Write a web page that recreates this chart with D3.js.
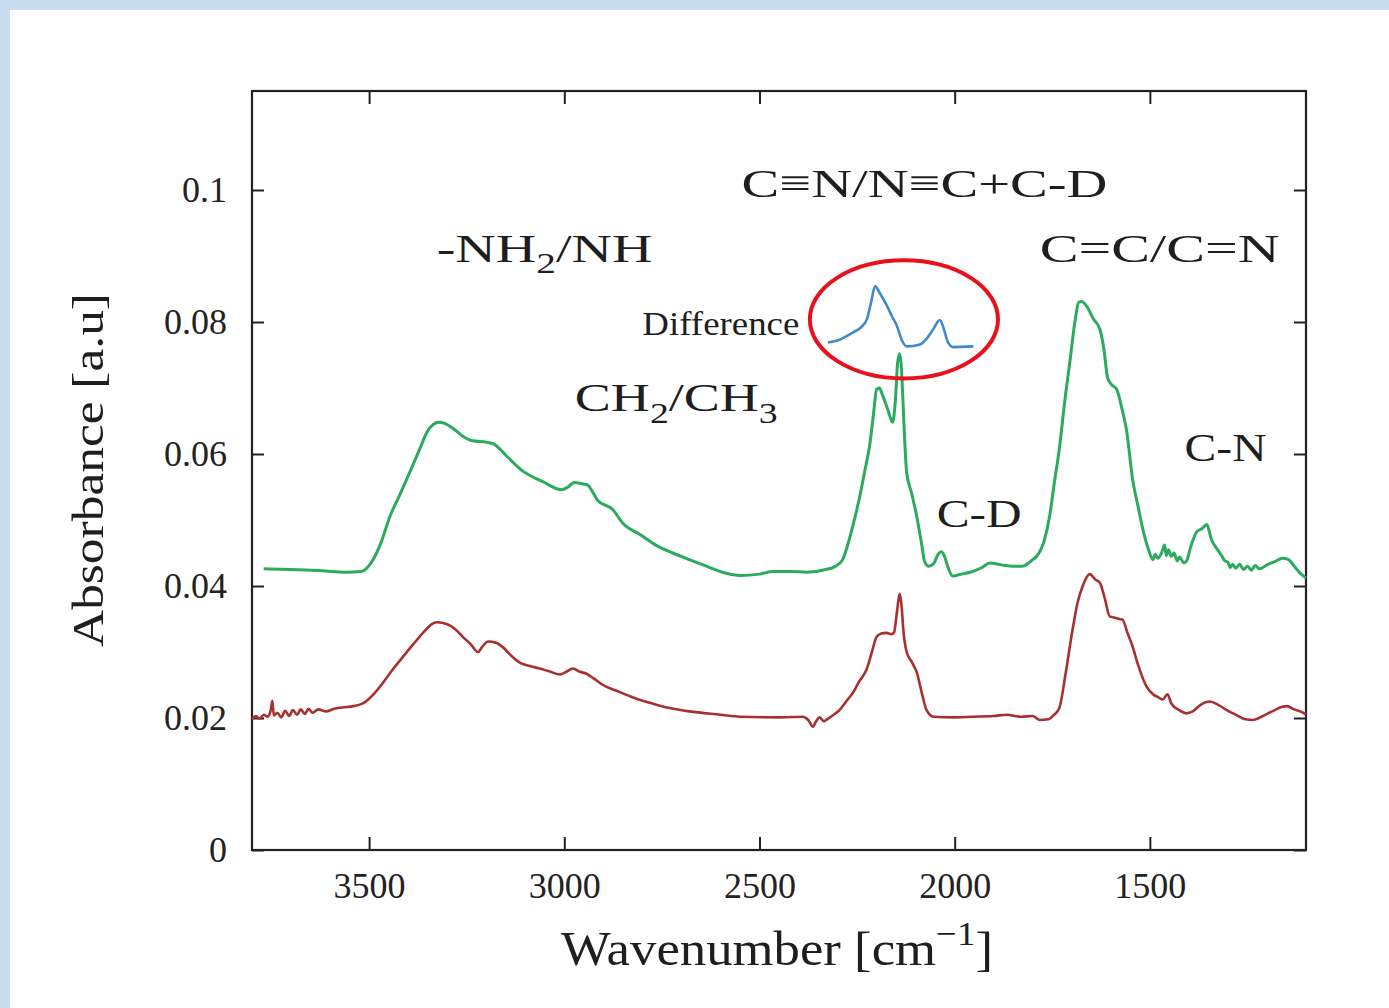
<!DOCTYPE html>
<html>
<head>
<meta charset="utf-8">
<script src="https://cdn.jsdelivr.net/npm/d3@7"></script>
<style>
  body { margin: 0; background: #c9dcf0; }
  svg { display: block; }
</style>
</head>
<body>
<div id="chart"></div>
<script>
// spectra: [wavenumber cm-1, absorbance]
var deuterated = [
  [3770, 0.0426], [3700, 0.0425], [3620, 0.0423], [3560, 0.0421], [3520, 0.0422],
  [3495, 0.0435], [3470, 0.0465], [3447, 0.0505], [3420, 0.0540], [3396, 0.0572],
  [3370, 0.0608], [3352, 0.0633], [3335, 0.0645], [3322, 0.0648], [3305, 0.0646],
  [3290, 0.0641], [3260, 0.0627], [3235, 0.0620], [3200, 0.0618], [3180, 0.0615],
  [3148, 0.0597], [3106, 0.0574], [3055, 0.0558], [3007, 0.0546], [2990, 0.0550],
  [2975, 0.0557], [2955, 0.0555], [2940, 0.0553], [2925, 0.0540], [2915, 0.0530],
  [2876, 0.0516], [2850, 0.0495], [2806, 0.0478], [2760, 0.0460], [2722, 0.0450],
  [2680, 0.0440], [2636, 0.0430], [2590, 0.0420], [2550, 0.0416], [2500, 0.0418],
  [2466, 0.0422], [2420, 0.0422], [2379, 0.0421], [2330, 0.0425], [2305, 0.0430],
  [2287, 0.0440], [2268, 0.0475], [2255, 0.0505], [2243, 0.0536], [2230, 0.0575],
  [2218, 0.0612], [2208, 0.0660], [2200, 0.0698], [2193, 0.0700], [2184, 0.0688],
  [2170, 0.0665], [2159, 0.0648], [2152, 0.0680], [2146, 0.0739], [2141, 0.0752],
  [2137, 0.0735], [2133, 0.0688], [2128, 0.0620], [2123, 0.0572], [2110, 0.0540],
  [2097, 0.0505], [2085, 0.0465], [2077, 0.0437], [2066, 0.0430], [2055, 0.0433],
  [2040, 0.0450], [2034, 0.0452], [2026, 0.0445], [2018, 0.0430], [2005, 0.0415],
  [1990, 0.0417], [1954, 0.0422], [1930, 0.0428], [1910, 0.0435], [1880, 0.0432],
  [1850, 0.0430], [1826, 0.0430], [1800, 0.0440], [1790, 0.0445], [1770, 0.0470],
  [1757, 0.0505], [1745, 0.0555], [1731, 0.0612], [1718, 0.0680], [1705, 0.0739],
  [1692, 0.0800], [1682, 0.0830], [1675, 0.0831], [1662, 0.0824], [1645, 0.0805],
  [1628, 0.0789], [1618, 0.0760], [1608, 0.0715], [1598, 0.0705], [1585, 0.0698],
  [1572, 0.0670], [1560, 0.0637], [1544, 0.0561], [1530, 0.0520], [1518, 0.0486],
  [1505, 0.0458], [1492, 0.0440], [1486, 0.0448], [1480, 0.0442], [1470, 0.0450],
  [1462, 0.0462], [1458, 0.0446], [1452, 0.0455], [1445, 0.0445], [1438, 0.0450],
  [1430, 0.0438], [1424, 0.0444], [1413, 0.0435], [1406, 0.0438], [1395, 0.0460],
  [1380, 0.0482], [1366, 0.0487], [1354, 0.0493], [1342, 0.0470], [1329, 0.0457],
  [1315, 0.0445], [1308, 0.0438], [1300, 0.0436], [1294, 0.0428], [1288, 0.0433],
  [1280, 0.0427], [1270, 0.0433], [1260, 0.0425], [1250, 0.0430], [1240, 0.0424],
  [1230, 0.0431], [1219, 0.0426], [1200, 0.0432], [1180, 0.0437], [1160, 0.0442],
  [1145, 0.0440], [1130, 0.0430], [1116, 0.0420], [1100, 0.0412]
];

var reference = [
  [3800, 0.0198], [3790, 0.0203], [3780, 0.0199], [3770, 0.0205], [3760, 0.0202],
  [3752, 0.0212], [3748, 0.0226], [3744, 0.0204], [3735, 0.0208], [3725, 0.0201],
  [3715, 0.0211], [3705, 0.0203], [3695, 0.0212], [3685, 0.0205], [3675, 0.0213],
  [3665, 0.0206], [3655, 0.0214], [3645, 0.0208], [3630, 0.0213], [3610, 0.0210],
  [3590, 0.0214], [3570, 0.0216], [3540, 0.0218], [3516, 0.0222], [3490, 0.0235],
  [3465, 0.0253], [3440, 0.0273], [3413, 0.0293], [3385, 0.0313], [3362, 0.0329],
  [3340, 0.0342], [3327, 0.0345], [3300, 0.0342], [3280, 0.0335], [3260, 0.0323],
  [3240, 0.0312], [3221, 0.0300], [3210, 0.0308], [3195, 0.0316], [3175, 0.0314],
  [3157, 0.0307], [3135, 0.0294], [3114, 0.0284], [3090, 0.0279], [3063, 0.0275],
  [3035, 0.0270], [3011, 0.0266], [2995, 0.0270], [2978, 0.0275], [2960, 0.0270],
  [2943, 0.0267], [2925, 0.0260], [2901, 0.0250], [2870, 0.0242], [2840, 0.0235],
  [2810, 0.0228], [2781, 0.0223], [2730, 0.0215], [2680, 0.0210], [2600, 0.0205],
  [2550, 0.0202], [2450, 0.0201], [2389, 0.0202], [2375, 0.0197], [2363, 0.0187],
  [2355, 0.0195], [2346, 0.0201], [2335, 0.0195], [2327, 0.0198], [2310, 0.0205],
  [2295, 0.0212], [2278, 0.0225], [2261, 0.0238], [2245, 0.0255], [2226, 0.0273],
  [2212, 0.0300], [2200, 0.0323], [2188, 0.0328], [2175, 0.0329], [2162, 0.0327],
  [2155, 0.0330], [2148, 0.0360], [2141, 0.0388], [2136, 0.0370], [2131, 0.0330],
  [2123, 0.0300], [2110, 0.0285], [2097, 0.0269], [2085, 0.0240], [2072, 0.0212],
  [2054, 0.0202], [2000, 0.0201], [1954, 0.0202], [1900, 0.0203], [1867, 0.0205],
  [1830, 0.0202], [1800, 0.0203], [1782, 0.0197], [1760, 0.0198], [1745, 0.0205],
  [1732, 0.0215], [1715, 0.0270], [1698, 0.0334], [1685, 0.0375], [1672, 0.0400],
  [1654, 0.0418], [1640, 0.0410], [1628, 0.0405], [1615, 0.0380], [1603, 0.0354],
  [1590, 0.0352], [1578, 0.0350], [1570, 0.0349], [1558, 0.0330], [1544, 0.0308],
  [1530, 0.0280], [1508, 0.0247], [1490, 0.0235], [1480, 0.0232], [1467, 0.0228],
  [1455, 0.0236], [1445, 0.0222], [1425, 0.0212], [1406, 0.0207], [1390, 0.0210],
  [1370, 0.0220], [1346, 0.0225], [1325, 0.0220], [1303, 0.0212], [1280, 0.0205],
  [1255, 0.0198], [1236, 0.0197], [1210, 0.0203], [1180, 0.0212], [1160, 0.0217],
  [1149, 0.0218], [1130, 0.0213], [1108, 0.0208], [1100, 0.0205]
];

// inset "Difference" trace, drawn in the same axes
var difference = [
  [2325, 0.0769], [2300, 0.0772], [2261, 0.0784], [2240, 0.0792], [2225, 0.0804],
  [2214, 0.0830], [2204, 0.0854], [2190, 0.0842], [2173, 0.0824], [2160, 0.0808],
  [2148, 0.0794], [2135, 0.0772], [2122, 0.0763], [2089, 0.0766], [2070, 0.0776],
  [2055, 0.0789], [2038, 0.0803], [2028, 0.0790], [2017, 0.0769], [2004, 0.0762],
  [1952, 0.0763]
];

var xTicks = [3500, 3000, 2500, 2000, 1500];
var yTicks = [0, 0.02, 0.04, 0.06, 0.08, 0.1];

// label text pieces: [text, "sub" | "sup" | undefined]
var labels = [
  {parts: [["-NH"], ["2", "sub"], ["/NH"]], wn: 3327, abs: 0.0891, width: 216, size: 41},
  {parts: [["C\u2261N/N\u2261C+C-D"]], wn: 2546, abs: 0.0989, width: 366, size: 41},
  {parts: [["Difference"]], wn: 2800, abs: 0.0781, width: 157, size: 34},
  {parts: [["CH"], ["2", "sub"], ["/CH"], ["3", "sub"]], wn: 2973, abs: 0.0665, width: 203, size: 41},
  {parts: [["C=C/C=N"]], wn: 1782, abs: 0.0891, width: 240, size: 41},
  {parts: [["C-N"]], wn: 1411, abs: 0.0589, width: 82, size: 41},
  {parts: [["C-D"]], wn: 2046, abs: 0.0489, width: 85, size: 40}
];

var W = 1389, H = 1008;
var margin = {left: 252, right: W - 1306, top: 91, bottom: H - 850};
var font = '"Liberation Serif", "DejaVu Serif", serif';

var svg = d3.select('#chart').append('svg')
  .attr('width', W)
  .attr('height', H);

svg.append('rect').attr('width', W).attr('height', H).attr('fill', '#c9dcf0');
svg.append('rect').attr('x', 10).attr('y', 10)
  .attr('width', W - 10).attr('height', H - 10).attr('fill', '#fff');

var x = d3.scaleLinear().domain([3800, 1100]).range([margin.left, W - margin.right]);
var y = d3.scaleLinear().domain([0, 0.115]).range([H - margin.bottom, margin.top]);

var fmt = function (d) { return d === 0 ? '0' : String(+d.toFixed(2)); };

// axes, ticks pointing inward
var gx = svg.append('g')
  .attr('transform', 'translate(0,' + y(0) + ')')
  .call(d3.axisBottom(x).tickValues(xTicks).tickSizeInner(-13).tickSizeOuter(0)
    .tickPadding(22).tickFormat(d3.format('d')));
var gxt = svg.append('g')
  .attr('transform', 'translate(0,' + margin.top + ')')
  .call(d3.axisTop(x).tickValues(xTicks).tickSizeInner(-13).tickSizeOuter(0).tickFormat(''));
var gy = svg.append('g')
  .attr('transform', 'translate(' + margin.left + ',0)')
  .call(d3.axisLeft(y).tickValues(yTicks).tickSizeInner(-12).tickSizeOuter(0).tickPadding(25).tickFormat(fmt));
var gyr = svg.append('g')
  .attr('transform', 'translate(' + (W - margin.right) + ',0)')
  .call(d3.axisRight(y).tickValues(yTicks).tickSizeInner(-12).tickSizeOuter(0).tickFormat(''));

[gx, gxt, gy, gyr].forEach(function (g) {
  g.select('.domain').remove();
  g.selectAll('.tick line').attr('stroke', '#222').attr('stroke-width', 2);
  g.selectAll('.tick text')
    .attr('font-family', font)
    .attr('font-size', 36)
    .attr('fill', '#222');
});

svg.append('rect')
  .attr('x', margin.left).attr('y', margin.top)
  .attr('width', W - margin.right - margin.left)
  .attr('height', y(0) - margin.top)
  .attr('fill', 'none')
  .attr('stroke', '#222')
  .attr('stroke-width', 2.2);

var line = d3.line()
  .x(function (d) { return x(d[0]); })
  .y(function (d) { return y(d[1]); })
  .curve(d3.curveMonotoneX);

svg.append('path').datum(reference)
  .attr('d', line).attr('fill', 'none')
  .attr('stroke', '#a8302e').attr('stroke-width', 2.6).attr('stroke-linejoin', 'round');
svg.append('path').datum(deuterated)
  .attr('d', line).attr('fill', 'none')
  .attr('stroke', '#2caa5e').attr('stroke-width', 3).attr('stroke-linejoin', 'round');
svg.append('path').datum(difference)
  .attr('d', line).attr('fill', 'none')
  .attr('stroke', '#4289c8').attr('stroke-width', 2.6).attr('stroke-linejoin', 'round');

// red ring round the difference trace
svg.append('ellipse')
  .attr('cx', x(2130)).attr('cy', y(0.0804))
  .attr('rx', x(2130 - 241) - x(2130))
  .attr('ry', y(0) - y(0.00895))
  .attr('fill', 'none')
  .attr('stroke', '#e8101a')
  .attr('stroke-width', 4);

// write text from pieces, then stretch it to the width seen in the picture
function writeParts(t, parts, size) {
  var shift = 0;
  parts.forEach(function (p) {
    var s = p[1] === 'sub' ? size * 0.28 : p[1] === 'sup' ? -size * 0.42 : 0;
    t.append('tspan')
      .attr('dy', s - shift)
      .attr('font-size', p[1] ? size * 0.7 : size)
      .text(p[0]);
    shift = s;
  });
}

labels.forEach(function (l) {
  var t = svg.append('text')
    .attr('font-family', font)
    .attr('font-size', l.size)
    .attr('fill', '#1e1e1e');
  writeParts(t, l.parts, l.size);
  var bw = t.node().getBBox().width;
  t.attr('transform', 'translate(' + x(l.wn) + ',' + y(l.abs) + ') scale(' + (l.width / bw) + ',1)');
});

// axis titles
var xt = svg.append('text')
  .attr('font-family', font).attr('font-size', 48).attr('fill', '#1e1e1e')
  .attr('text-anchor', 'middle');
writeParts(xt, [['Wavenumber [cm'], ['\u22121', 'sup'], [']']], 48);
var xw = xt.node().getBBox().width;
xt.attr('transform', 'translate(' + ((margin.left + W - margin.right) / 2 - 2) + ',965) scale(' + (432 / xw) + ',1)');

var yt = svg.append('text')
  .attr('font-family', font).attr('font-size', 45).attr('fill', '#1e1e1e')
  .attr('text-anchor', 'middle')
  .text('Absorbance [a.u]');
var yw = yt.node().getBBox().width;
yt.attr('transform', 'translate(103,470) rotate(-90) scale(' + (354 / yw) + ',1)');
</script>
</body>
</html>
